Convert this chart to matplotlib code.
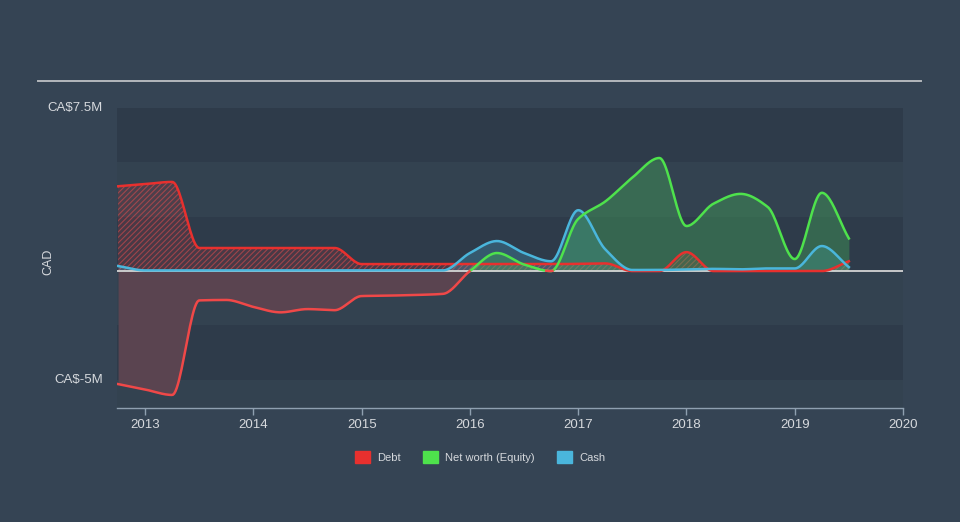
import numpy as np
import matplotlib
matplotlib.use("Agg")
import matplotlib.pyplot as plt
import matplotlib.patches as mpatches

plt.rcParams['font.family'] = ['Liberation Sans', 'DejaVu Sans']
plt.rcParams['hatch.linewidth'] = 0.8

# quarterly reporting dates (decimal years) and values in CA$ millions
dates = [2012.75, 2013.0, 2013.25, 2013.5, 2013.75, 2014.0, 2014.25, 2014.5,
         2014.75, 2015.0, 2015.25, 2015.5, 2015.75, 2016.0, 2016.25, 2016.5,
         2016.75, 2017.0, 2017.25, 2017.5, 2017.75, 2018.0, 2018.25, 2018.5,
         2018.75, 2019.0, 2019.25, 2019.5]
debt = [3.9, 4.0, 4.1, 1.06, 1.06, 1.06, 1.06, 1.06,
        1.06, 0.32, 0.32, 0.32, 0.32, 0.32, 0.32, 0.32,
        0.32, 0.33, 0.35, 0.0, 0.0, 0.87, 0.0, 0.0,
        0.0, 0.0, 0.0, 0.45]
equity = [-5.2, -5.45, -5.7, -1.35, -1.33, -1.65, -1.9, -1.75,
          -1.8, -1.15, -1.13, -1.1, -1.05, 0.0, 0.83, 0.3,
          0.0, 2.4, 3.2, 4.3, 5.2, 2.07, 3.1, 3.55,
          2.95, 0.55, 3.6, 1.5]
cash = [0.23, 0.03, 0.03, 0.03, 0.03, 0.03, 0.03, 0.03,
        0.03, 0.03, 0.03, 0.03, 0.03, 0.83, 1.38, 0.83,
        0.45, 2.8, 1.0, 0.05, 0.05, 0.08, 0.1, 0.08,
        0.12, 0.12, 1.15, 0.18]

year_ticks = [2013, 2014, 2015, 2016, 2017, 2018, 2019, 2020]
y_ticks = [-5, 7.5]
y_ticklabels = ['CA$-5M', 'CA$7.5M']

BG = '#354454'
BAND = '#2e3b4a'
RED = '#e8302e'
GREEN = '#4ee24c'
BLUE = '#4ab6dc'
TXT = '#d6d9dd'


def monotone(x, y, n=600):
    # monotone cubic (Fritsch-Carlson) path through the data points
    x = np.asarray(x, float)
    y = np.asarray(y, float)
    h = np.diff(x)
    d = np.diff(y) / h
    m = np.zeros_like(y)
    m[0], m[-1] = d[0], d[-1]
    for i in range(1, len(y) - 1):
        if d[i - 1] * d[i] <= 0:
            m[i] = 0
        else:
            w1 = 2 * h[i] + h[i - 1]
            w2 = h[i] + 2 * h[i - 1]
            m[i] = (w1 + w2) / (w1 / d[i - 1] + w2 / d[i])
    xs = np.linspace(x[0], x[-1], n)
    idx = np.clip(np.searchsorted(x, xs) - 1, 0, len(x) - 2)
    t = (xs - x[idx]) / h[idx]
    h00 = 2 * t**3 - 3 * t**2 + 1
    h10 = t**3 - 2 * t**2 + t
    h01 = -2 * t**3 + 3 * t**2
    h11 = t**3 - t**2
    ys = (h00 * y[idx] + h10 * h[idx] * m[idx] +
          h01 * y[idx + 1] + h11 * h[idx] * m[idx + 1])
    return xs, ys


fig = plt.figure(figsize=(9.6, 5.22), dpi=100, facecolor=BG)
ax = fig.add_axes([117 / 960, 114 / 522, 786 / 960, 300 / 522])
ax.set_facecolor(BG)
ax.set_xlim(2012.74, 2020.0)
ax.set_ylim(-6.3, 7.5)

# alternating background bands
for lo, hi in [(5, 7.5), (0, 2.5), (-5, -2.5)]:
    ax.axhspan(lo, hi, color=BAND, lw=0, zorder=0)
for lo, hi in [(2.5, 5), (-2.5, 0), (-6.3, -5)]:
    ax.axhspan(lo, hi, color='#334250', lw=0, zorder=0)

xe, ye = monotone(dates, equity)
xd, yd = monotone(dates, debt)
xc, yc = monotone(dates, cash)

# equity below zero
ax.fill_between(xe, ye, 0, where=ye < 0, color='#5a4450', lw=0, zorder=1)
# debt hatched
ax.fill_between(xd, yd, 0, facecolor=(0.91, 0.19, 0.18, 0.14),
                edgecolor=(0.9, 0.3, 0.3, 0.55), hatch='//////', lw=0, zorder=2)
# cash
ax.fill_between(xc, yc, 0, color=BLUE, alpha=0.25, lw=0, zorder=3)
# equity above zero
ax.fill_between(xe, ye, 0, where=ye >= 0, color='#43a85a', alpha=0.4, lw=0, zorder=3)

ax.axhline(0, color='#d4d4d4', lw=1.3, zorder=4)

ax.plot(xd, yd, color=RED, lw=1.8, zorder=5)
ax.plot(xc, yc, color=BLUE, lw=1.8, zorder=6)
ax.plot(xe, np.where(ye >= -0.02, ye, np.nan), color=GREEN, lw=1.8, zorder=7)
ax.plot(xe, np.where(ye <= 0.02, ye, np.nan), color='#f04848', lw=1.8, zorder=7)

for s in ['top', 'right', 'left']:
    ax.spines[s].set_visible(False)
ax.spines['bottom'].set_color('#8fa0b0')
ax.spines['bottom'].set_linewidth(1)

ax.set_xticks(year_ticks)
ax.set_xticklabels([str(y) for y in year_ticks])
ax.tick_params(axis='x', colors='#8fa0b0', labelcolor=TXT, labelsize=9.5,
               length=5, width=1, direction='out', pad=3)
ax.set_yticks(y_ticks)
ax.set_yticklabels(y_ticklabels)
ax.tick_params(axis='y', length=0, labelcolor=TXT, labelsize=9.5, pad=10)
for lab in ax.get_yticklabels():
    lab.set_verticalalignment('center')
ax.set_ylabel('CAD', color=TXT, fontsize=9)
ax.yaxis.set_label_coords((54 - 117) / 786, (408 - 262) / 300)

# top rule
fig.add_artist(plt.Line2D([38 / 960, 921 / 960], [1 - 81 / 522, 1 - 81 / 522],
                          color='#b4b8bc', lw=1.4))

handles = [mpatches.Patch(color=RED, label='Debt'),
           mpatches.Patch(color=GREEN, label='Net worth (Equity)'),
           mpatches.Patch(color=BLUE, label='Cash')]
leg = fig.legend(handles=handles, loc='center', bbox_to_anchor=(0.5, 1 - 457 / 522),
                 ncol=3, frameon=False, fontsize=8, handlelength=1.4,
                 handleheight=1.2, columnspacing=2.0, handletextpad=0.6)
for t in leg.get_texts():
    t.set_color(TXT)

fig.savefig('out.png', dpi=100, facecolor=BG)
